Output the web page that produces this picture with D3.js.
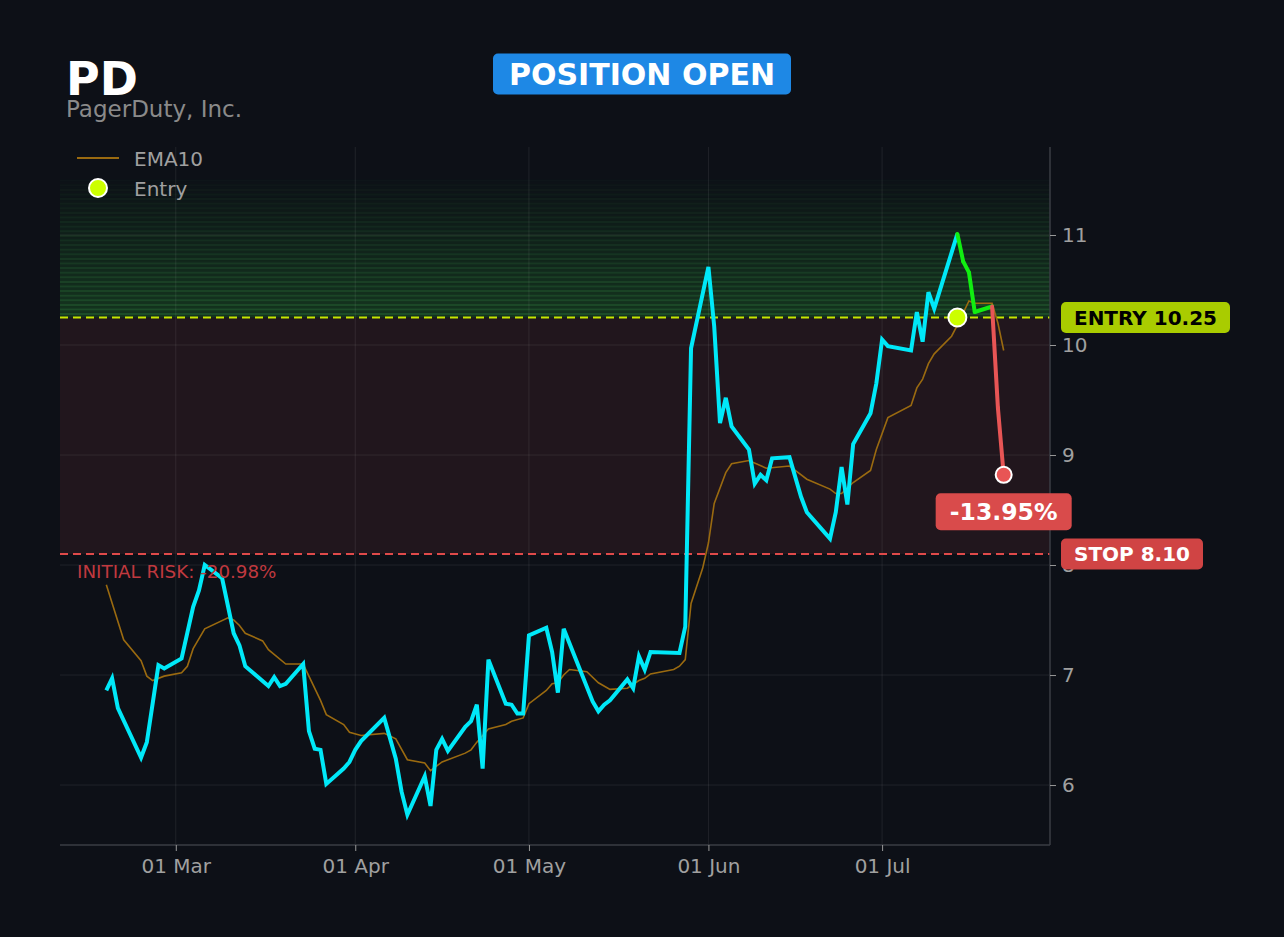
<!DOCTYPE html>
<html>
  <head>
    <meta charset="utf-8">
    <title>PD position</title>
   <style>
      html, body {
        padding: 0;
        margin: 0;
        background: #0d1017;
      }
      svg {
        display: block;
        font-family: "DejaVu Sans", sans-serif;
      }
   </style>
  </head>
<body>

<svg width="1284" height="937"></svg>

<script src="https://cdn.jsdelivr.net/npm/d3@7"></script>
<script>

// closing prices
const priceDates = [
  "2024-02-18","2024-02-19","2024-02-20","2024-02-24","2024-02-25","2024-02-27","2024-02-28",
  "2024-03-02","2024-03-04","2024-03-05","2024-03-06","2024-03-09","2024-03-11","2024-03-12",
  "2024-03-13","2024-03-17","2024-03-18","2024-03-19","2024-03-20","2024-03-23","2024-03-24",
  "2024-03-25","2024-03-26","2024-03-27","2024-03-30","2024-03-31","2024-04-01","2024-04-02",
  "2024-04-06","2024-04-08","2024-04-09","2024-04-10","2024-04-13","2024-04-14","2024-04-15",
  "2024-04-16","2024-04-17","2024-04-20","2024-04-21","2024-04-22","2024-04-23","2024-04-24",
  "2024-04-27","2024-04-28","2024-04-29","2024-04-30","2024-05-01","2024-05-04","2024-05-05",
  "2024-05-06","2024-05-07","2024-05-12","2024-05-13","2024-05-14","2024-05-15","2024-05-18",
  "2024-05-19","2024-05-20","2024-05-21","2024-05-22","2024-05-27","2024-05-28","2024-05-29",
  "2024-06-01","2024-06-02","2024-06-03","2024-06-04","2024-06-05","2024-06-08","2024-06-09",
  "2024-06-10","2024-06-11","2024-06-12","2024-06-15","2024-06-17","2024-06-18","2024-06-22",
  "2024-06-23","2024-06-24","2024-06-25","2024-06-26","2024-06-29","2024-06-30","2024-07-01",
  "2024-07-02","2024-07-06","2024-07-07","2024-07-08","2024-07-09","2024-07-10","2024-07-14",
  "2024-07-15","2024-07-16","2024-07-17","2024-07-20","2024-07-21","2024-07-22"
];
const priceValues = [
  6.86, 6.97, 6.70, 6.25, 6.39, 7.09, 7.06,
  7.15, 7.62, 7.77, 8.00, 7.88, 7.38, 7.27,
  7.08, 6.90, 6.98, 6.90, 6.92, 7.10, 6.49,
  6.33, 6.32, 6.01, 6.15, 6.21, 6.32, 6.40,
  6.61, 6.24, 5.94, 5.73, 6.08, 5.81, 6.32,
  6.42, 6.31, 6.53, 6.58, 6.73, 6.15, 7.14,
  6.74, 6.73, 6.65, 6.65, 7.36, 7.43, 7.21,
  6.84, 7.42, 6.76, 6.67, 6.73, 6.77, 6.96,
  6.88, 7.17, 7.05, 7.21, 7.20, 7.44, 9.97,
  10.71, 10.17, 9.29, 9.52, 9.26, 9.05, 8.74,
  8.82, 8.77, 8.97, 8.98, 8.62, 8.48, 8.24,
  8.48, 8.89, 8.55, 9.10, 9.38, 9.65, 10.05,
  9.99, 9.95, 10.30, 10.03, 10.48, 10.33, 11.01,
  10.76, 10.66, 10.30, 10.35, 9.43, 8.82
];

const emaDates = [
  "2024-02-18","2024-02-21","2024-02-24","2024-02-25","2024-02-26","2024-02-28","2024-03-02",
  "2024-03-03","2024-03-04","2024-03-06","2024-03-10","2024-03-11","2024-03-12","2024-03-13",
  "2024-03-16","2024-03-17","2024-03-20","2024-03-23","2024-03-26","2024-03-27","2024-03-30",
  "2024-03-31","2024-04-02","2024-04-06","2024-04-08","2024-04-10","2024-04-13","2024-04-14",
  "2024-04-16","2024-04-20","2024-04-21","2024-04-22","2024-04-24","2024-04-27","2024-04-28",
  "2024-04-30","2024-05-01","2024-05-04","2024-05-05","2024-05-06","2024-05-07","2024-05-08",
  "2024-05-11","2024-05-13","2024-05-15","2024-05-18","2024-05-20","2024-05-21","2024-05-22",
  "2024-05-26","2024-05-27","2024-05-28","2024-05-29","2024-05-31","2024-06-01","2024-06-02",
  "2024-06-04","2024-06-05","2024-06-08","2024-06-11","2024-06-15","2024-06-16","2024-06-18",
  "2024-06-22","2024-06-23","2024-06-24","2024-06-26","2024-06-29","2024-06-30","2024-07-02",
  "2024-07-06","2024-07-07","2024-07-08","2024-07-09","2024-07-10","2024-07-13","2024-07-14",
  "2024-07-16","2024-07-17","2024-07-20","2024-07-21","2024-07-22"
];
const emaValues = [
  7.82, 7.32, 7.13, 6.99, 6.95, 6.99, 7.02,
  7.08, 7.24, 7.42, 7.52, 7.50, 7.45, 7.38,
  7.31, 7.23, 7.10, 7.10, 6.77, 6.64, 6.55,
  6.48, 6.45, 6.47, 6.42, 6.23, 6.20, 6.13,
  6.21, 6.29, 6.32, 6.39, 6.51, 6.55, 6.58,
  6.61, 6.74, 6.86, 6.92, 6.93, 7.00, 7.05,
  7.03, 6.93, 6.87, 6.88, 6.95, 6.97, 7.01,
  7.05, 7.08, 7.14, 7.65, 7.97, 8.20, 8.56,
  8.84, 8.92, 8.95, 8.88, 8.90, 8.86, 8.78,
  8.69, 8.65, 8.65, 8.75, 8.86, 9.05, 9.34,
  9.45, 9.61, 9.69, 9.83, 9.92, 10.08, 10.18,
  10.40, 10.38, 10.38, 10.20, 9.95
];

const ticker = "PD";
const company = "PagerDuty, Inc.";
const status = "POSITION OPEN";
const entryDate = "2024-07-14";
const entryPrice = 10.25;
const stopPrice = 8.10;
const initialRisk = "-20.98%";
const currentReturn = "-13.95%";

const yTicks = [6, 7, 8, 9, 10, 11];
const xTicks = ["2024-03-01", "2024-04-01", "2024-05-01", "2024-06-01", "2024-07-01"];


const parse = d3.timeParse("%Y-%m-%d");
const price = priceDates.map((d, i) => ({date: parse(d), value: priceValues[i]}));
const ema = emaDates.map((d, i) => ({date: parse(d), value: emaValues[i]}));
const entryD = parse(entryDate);

const pLeft = 60, pRight = 1050, pTop = 147, pBottom = 845;

const x = d3.scaleTime()
            .domain([parse("2024-02-10"), parse("2024-07-30")])
            .range([pLeft, pRight]);

const y = d3.scaleLinear()
            .domain([5.455, 11.8])
            .range([pBottom, pTop]);

const svg = d3.select("svg");

svg.append("rect")
   .attr("width", 1284).attr("height", 937)
   .attr("fill", "#0d1017");

svg.append("clipPath").attr("id", "plot")
   .append("rect")
   .attr("x", pLeft).attr("y", pTop)
   .attr("width", pRight - pLeft).attr("height", pBottom - pTop);

const plot = svg.append("g").attr("clip-path", "url(#plot)");

// loss zone between entry and stop
plot.append("rect")
    .attr("x", pLeft).attr("width", pRight - pLeft)
    .attr("y", y(entryPrice))
    .attr("height", y(stopPrice) - y(entryPrice))
    .attr("fill", "#21161d");

// striped green glow above entry
const bands = d3.range(0, 30);
plot.selectAll(".band")
    .data(bands)
    .enter()
    .append("rect")
    .attr("x", pLeft).attr("width", pRight - pLeft)
    .attr("y", i => y(entryPrice) - 4.6 * (i + 1))
    .attr("height", 2.3)
    .attr("fill", "#2f8f3c")
    .attr("opacity", i => 0.45 * (1 - i / 30) + 0.03);
plot.selectAll(".band2")
    .data(bands)
    .enter()
    .append("rect")
    .attr("x", pLeft).attr("width", pRight - pLeft)
    .attr("y", i => y(entryPrice) - 4.6 * (i + 1) + 2.3)
    .attr("height", 2.3)
    .attr("fill", "#1c5a27")
    .attr("opacity", i => 0.48 * (1 - i / 30) + 0.02);

// grid
plot.selectAll(".gy")
    .data(yTicks)
    .enter()
    .append("line")
    .attr("x1", pLeft).attr("x2", pRight)
    .attr("y1", d => y(d)).attr("y2", d => y(d))
    .style("stroke", "#ffffff")
    .style("stroke-opacity", 0.08)
    .style("stroke-width", "1px");

plot.selectAll(".gx")
    .data(xTicks)
    .enter()
    .append("line")
    .attr("x1", d => x(parse(d))).attr("x2", d => x(parse(d)))
    .attr("y1", pTop).attr("y2", pBottom)
    .style("stroke", "#ffffff")
    .style("stroke-opacity", 0.08)
    .style("stroke-width", "1px");

// entry and stop lines
plot.append("line")
    .attr("x1", pLeft).attr("x2", pRight)
    .attr("y1", y(entryPrice)).attr("y2", y(entryPrice))
    .style("stroke", "#c6e600")
    .style("stroke-width", "2px")
    .style("stroke-dasharray", "8,5");

plot.append("line")
    .attr("x1", pLeft).attr("x2", pRight)
    .attr("y1", y(stopPrice)).attr("y2", y(stopPrice))
    .style("stroke", "#e04a4a")
    .style("stroke-width", "2px")
    .style("stroke-dasharray", "8,5");

const line = d3.line()
               .x(d => x(d.date))
               .y(d => y(d.value));

plot.append("path")
    .datum(ema)
    .attr("d", line)
    .style("fill", "none")
    .style("stroke", "#9a6a10")
    .style("stroke-width", "1.6px");

// price before entry
const entryIdx = price.findIndex(d => +d.date === +entryD);
plot.append("path")
    .datum(price.slice(0, entryIdx + 1))
    .attr("d", line)
    .style("fill", "none")
    .style("stroke", "#00e8f8")
    .style("stroke-width", "4px");

// after entry: green while above entry, red below
for (let i = entryIdx; i < price.length - 1; i++) {
  const up = price[i + 1].value >= entryPrice;
  plot.append("path")
      .datum([price[i], price[i + 1]])
      .attr("d", line)
      .style("fill", "none")
      .style("stroke", up ? "#11ee11" : "#e85555")
      .style("stroke-width", "4px")
      .style("stroke-linecap", "round");
}

// axes
const yAxis = d3.axisRight(y)
                .tickValues(yTicks)
                .tickFormat(d3.format("d"))
                .tickSize(6)
                .tickPadding(6);
const gy = svg.append("g")
              .attr("transform", "translate(" + pRight + ",0)")
              .call(yAxis);

const xAxis = d3.axisBottom(x)
                .tickValues(xTicks.map(parse))
                .tickFormat(d3.timeFormat("%d %b"))
                .tickSize(6)
                .tickPadding(8);
const gx = svg.append("g")
              .attr("transform", "translate(0," + pBottom + ")")
              .call(xAxis);

[gx, gy].forEach(g => {
  g.select(".domain").style("stroke", "#3a3d44").attr("stroke-width", 1.5);
  g.selectAll(".tick line").style("stroke", "#999");
  g.selectAll(".tick text")
   .style("fill", "#a0a0a0")
   .style("font-size", "20px")
   .style("font-family", "DejaVu Sans, sans-serif");
});
gy.select(".domain").attr("d", "M0," + pTop + "V" + pBottom);
gx.select(".domain").attr("d", "M" + pLeft + ",0H" + pRight);

// markers
svg.append("circle")
   .attr("cx", x(entryD)).attr("cy", y(entryPrice))
   .attr("r", 9)
   .style("fill", "#ccff00")
   .style("stroke", "#ffffff")
   .style("stroke-width", "2px");

const last = price[price.length - 1];
svg.append("circle")
   .attr("cx", x(last.date)).attr("cy", y(last.value))
   .attr("r", 8)
   .style("fill", "#e85555")
   .style("stroke", "#ffffff")
   .style("stroke-width", "2px");

// labels on the right
function badge(cx, cy, w, h, fill, textFill, label, size, anchorLeft) {
  const g = svg.append("g");
  const x0 = anchorLeft ? cx : cx - w / 2;
  g.append("rect")
   .attr("x", x0).attr("y", cy - h / 2)
   .attr("width", w).attr("height", h)
   .attr("rx", 5)
   .style("fill", fill);
  g.append("text")
   .attr("x", x0 + w / 2).attr("y", cy)
   .attr("text-anchor", "middle")
   .attr("dominant-baseline", "central")
   .style("fill", textFill)
   .style("font-size", size + "px")
   .style("font-weight", "bold")
   .text(label);
}

badge(1061, y(entryPrice), 169, 31, "#a9cc00", "#000000", "ENTRY " + entryPrice.toFixed(2), 20, true);
badge(1061, y(stopPrice), 142, 31, "#d04444", "#ffffff", "STOP " + stopPrice.toFixed(2), 20, true);
badge(x(last.date), y(last.value) + 37, 136, 37, "#d94b4b", "#ffffff", currentReturn, 23.5, false);
badge(642, 74, 298, 41, "#1e88e5", "#ffffff", status, 30, false);

svg.append("text")
   .attr("x", 77).attr("y", 578)
   .style("fill", "#c0393f")
   .style("font-size", "18.3px")
   .text("INITIAL RISK: " + initialRisk);

// title
svg.append("text")
   .attr("x", 66).attr("y", 95)
   .style("fill", "#ffffff")
   .style("font-size", "46px")
   .style("font-weight", "bold")
   .text(ticker);

svg.append("text")
   .attr("x", 66).attr("y", 117)
   .style("fill", "#8a8a8a")
   .style("font-size", "23px")
   .text(company);

// legend
svg.append("line")
   .attr("x1", 77).attr("x2", 119)
   .attr("y1", 158).attr("y2", 158)
   .style("stroke", "#9a6a10")
   .style("stroke-width", "2px");
svg.append("text")
   .attr("x", 134).attr("y", 159)
   .attr("dominant-baseline", "central")
   .style("fill", "#a0a0a0")
   .style("font-size", "20px")
   .text("EMA10");
svg.append("circle")
   .attr("cx", 98).attr("cy", 188)
   .attr("r", 9)
   .style("fill", "#ccff00")
   .style("stroke", "#ffffff")
   .style("stroke-width", "2px");
svg.append("text")
   .attr("x", 134).attr("y", 189)
   .attr("dominant-baseline", "central")
   .style("fill", "#a0a0a0")
   .style("font-size", "20px")
   .text("Entry");

</script>

</body>
</html>
